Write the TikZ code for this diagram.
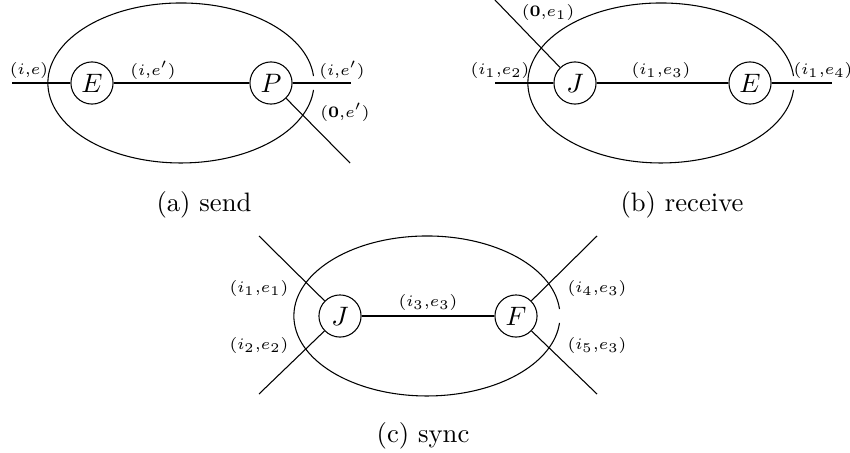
\documentclass[tikz,border=0pt]{standalone}
\usetikzlibrary{calc}
\newcommand{\cm}{{,}}
\begin{document}
\begin{tikzpicture}[x=0.375pt,y=-0.375pt,
  proc/.style={circle,draw,minimum size=15.8pt,inner sep=0pt},
  lbl/.style={font=\fontsize{6.5}{8}\selectfont,inner sep=0pt},
  captext/.style={inner sep=0pt},
  link/.style={line width=0.4pt},
  bound/.style={line width=0.4pt}]
\useasboundingbox (0,0) rectangle (850,453);
% ---------- (a) send ----------
\draw[bound] (313.5,76) arc[start angle=5,end angle=355,x radius=49.9pt,y radius=30pt];
\node[proc] (aE) at (92,83) {$E$};
\node[proc] (aP) at (271,83) {$P$};
\coordinate (aL) at (12,83);
\coordinate (aR) at (351,83);
\coordinate (aD) at (350,163);
\draw[link] (aL) -- (aE);
\draw[link] (aE) -- (aP);
\draw[link] (aP) -- (aR);
\draw[link] (aP) -- (aD);
\node[lbl] (la1) at (29,70) {$(i\cm e)$};
\node[lbl] (la2) at (153,70) {$(i\cm e')$};
\node[lbl] (la3) at (342,70) {$(i\cm e')$};
\node[lbl] (la4) at (345,112) {$(\mathbf{0}\cm e')$};
\node[captext] (capa) at (204,205) {(a) send};
% ---------- (b) receive ----------
\draw[bound] (793.5,76) arc[start angle=5,end angle=355,x radius=49.9pt,y radius=30pt];
\node[proc] (bJ) at (575,83) {$J$};
\node[proc] (bE) at (750,83) {$E$};
\coordinate (bL) at (495,83);
\coordinate (bR) at (832,83);
\coordinate (bD) at (495,0);
\draw[link] (bL) -- (bJ);
\draw[link] (bJ) -- (bE);
\draw[link] (bE) -- (bR);
\draw[link] (bD) -- (bJ);
\node[lbl] (lb1) at (548,12) {$(\mathbf{0}\cm e_1)$};
\node[lbl] (lb2) at (500,70) {$(i_1\cm e_2)$};
\node[lbl] (lb3) at (661,70) {$(i_1\cm e_3)$};
\node[lbl] (lb4) at (823,70) {$(i_1\cm e_4)$};
\node[captext] (capb) at (682,205) {(b) receive};
% ---------- (c) sync ----------
\draw[bound] (559.5,309) arc[start angle=5,end angle=355,x radius=49.9pt,y radius=30pt];
\node[proc] (cJ) at (340,316) {$J$};
\node[proc] (cF) at (516,316) {$F$};
\coordinate (c1) at (259,236);
\coordinate (c2) at (259,394);
\coordinate (c4) at (597,236);
\coordinate (c5) at (597,394);
\draw[link] (c1) -- (cJ);
\draw[link] (c2) -- (cJ);
\draw[link] (cJ) -- (cF);
\draw[link] (cF) -- (c4);
\draw[link] (cF) -- (c5);
\node[lbl] (lc1) at (259,288) {$(i_1\cm e_1)$};
\node[lbl] (lc2) at (259,345) {$(i_2\cm e_2)$};
\node[lbl] (lc3) at (428,302) {$(i_3\cm e_3)$};
\node[lbl] (lc4) at (597,288) {$(i_4\cm e_3)$};
\node[lbl] (lc5) at (597,345) {$(i_5\cm e_3)$};
\node[captext] (capc) at (423,436) {(c) sync};
\end{tikzpicture}
\end{document}
